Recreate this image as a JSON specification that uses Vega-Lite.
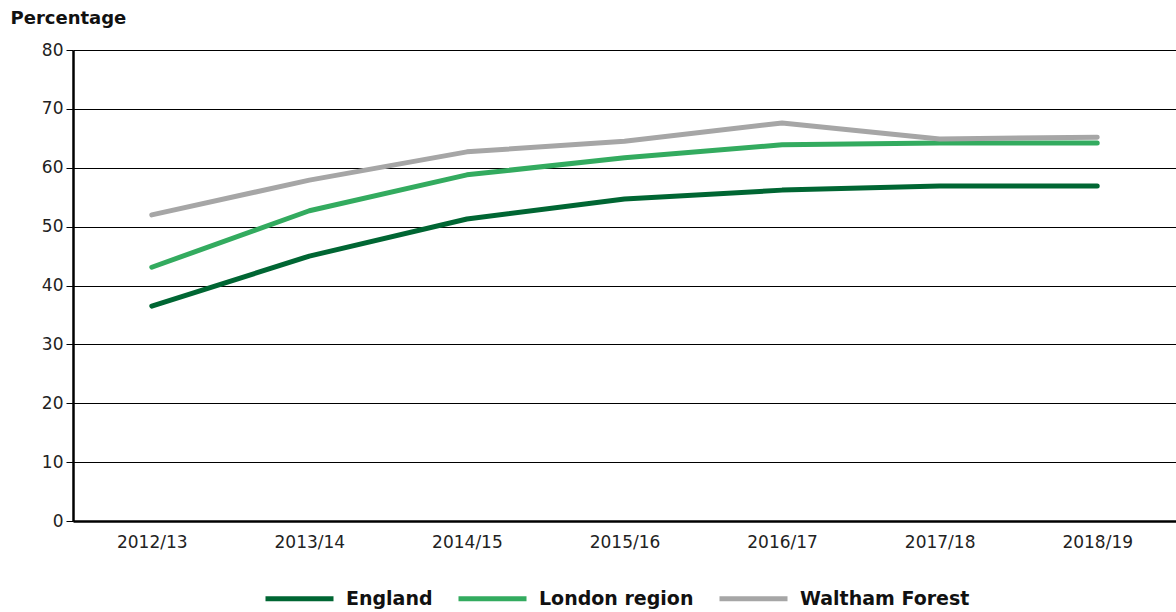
{
  "$schema": "https://vega.github.io/schema/vega-lite/v6.json",
  "width": 1103,
  "height": 471,
  "autosize": {"type": "none"},
  "padding": {"left": 73, "top": 50, "right": 0, "bottom": 91},
  "background": "white",
  "config": {
    "view": {"stroke": null},
    "font": "DejaVu Sans"
  },
  "data": {
    "values": [
      {"year": "2012/13", "area": "England", "value": 36.5},
      {"year": "2013/14", "area": "England", "value": 45.0},
      {"year": "2014/15", "area": "England", "value": 51.3},
      {"year": "2015/16", "area": "England", "value": 54.7},
      {"year": "2016/17", "area": "England", "value": 56.2},
      {"year": "2017/18", "area": "England", "value": 56.9},
      {"year": "2018/19", "area": "England", "value": 56.9},
      {"year": "2012/13", "area": "London region", "value": 43.1},
      {"year": "2013/14", "area": "London region", "value": 52.7},
      {"year": "2014/15", "area": "London region", "value": 58.8},
      {"year": "2015/16", "area": "London region", "value": 61.7},
      {"year": "2016/17", "area": "London region", "value": 63.9},
      {"year": "2017/18", "area": "London region", "value": 64.2},
      {"year": "2018/19", "area": "London region", "value": 64.2},
      {"year": "2012/13", "area": "Waltham Forest", "value": 52.0},
      {"year": "2013/14", "area": "Waltham Forest", "value": 57.9},
      {"year": "2014/15", "area": "Waltham Forest", "value": 62.7},
      {"year": "2015/16", "area": "Waltham Forest", "value": 64.5},
      {"year": "2016/17", "area": "Waltham Forest", "value": 67.6},
      {"year": "2017/18", "area": "Waltham Forest", "value": 64.9},
      {"year": "2018/19", "area": "Waltham Forest", "value": 65.2}
    ]
  },
  "mark": {"type": "line", "strokeWidth": 5, "strokeCap": "round", "strokeJoin": "round"},
  "encoding": {
    "x": {
      "field": "year",
      "type": "ordinal",
      "scale": {"type": "point", "padding": 0.5},
      "axis": {
        "title": null,
        "labelAngle": 0,
        "labelFontSize": 17,
        "labelColor": "#222",
        "labelPadding": 13,
        "ticks": false,
        "domainColor": "black",
        "domainWidth": 2.5,
        "grid": false
      }
    },
    "y": {
      "field": "value",
      "type": "quantitative",
      "scale": {"domain": [0, 80], "nice": false},
      "axis": {
        "values": [0, 10, 20, 30, 40, 50, 60, 70, 80],
        "title": "Percentage",
        "titleAngle": 0,
        "titleAlign": "left",
        "titleBaseline": "middle",
        "titleX": -63,
        "titleY": -32,
        "titleFontSize": 18,
        "titleFontWeight": "bold",
        "titleColor": "#111",
        "labelFontSize": 17,
        "labelColor": "#222",
        "labelPadding": 3,
        "tickSize": 7,
        "tickColor": "black",
        "domainColor": "black",
        "domainWidth": 2.5,
        "grid": true,
        "gridColor": "black",
        "gridWidth": 1,
        "gridOpacity": 1
      }
    },
    "color": {
      "field": "area",
      "type": "nominal",
      "scale": {
        "domain": ["England", "London region", "Waltham Forest"],
        "range": ["#006633", "#33ab5f", "#a6a6a6"]
      },
      "legend": {
        "title": null,
        "orient": "none",
        "legendX": 190,
        "legendY": 512,
        "padding": 0,
        "direction": "horizontal",
        "symbolType": "stroke",
        "symbolSize": 4624,
        "symbolStrokeWidth": 5,
        "labelFontSize": 19,
        "labelFontWeight": "bold",
        "labelColor": "#111",
        "labelOffset": 10,
        "labelLimit": 400,
        "columnPadding": 15
      }
    }
  }
}
